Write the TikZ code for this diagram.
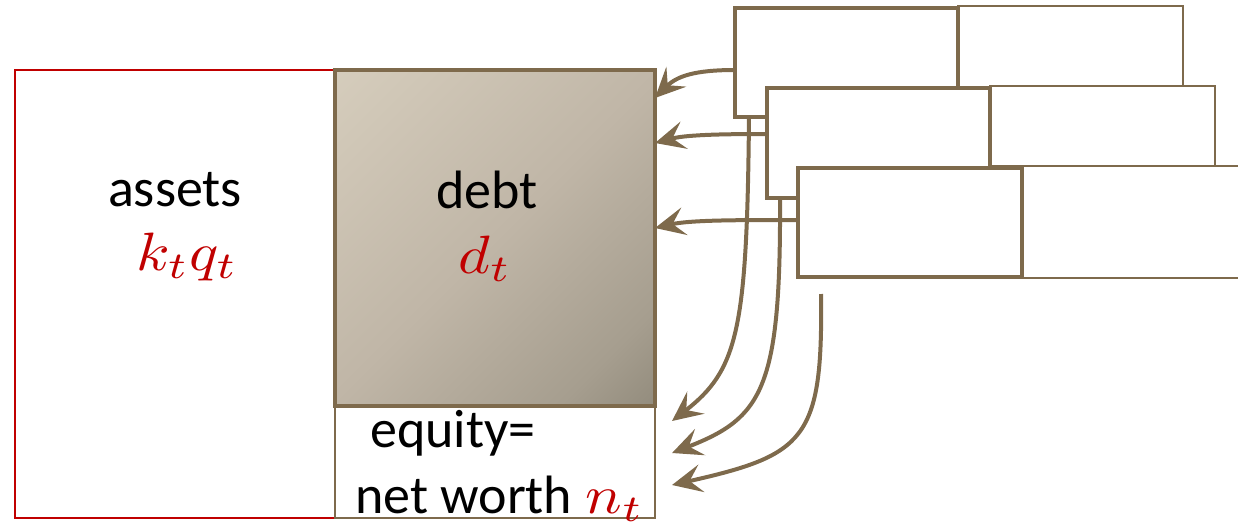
\documentclass[tikz,border=0pt]{standalone}
\usepackage{graphicx}
\usepackage{fontspec}
\setmainfont{Carlito}
\usetikzlibrary{arrows.meta,calc}
\definecolor{tan}{RGB}{126,106,76}
\definecolor{dred}{RGB}{192,0,0}
\definecolor{sh0}{RGB}{120,115,100}
\definecolor{sh1}{RGB}{166,158,143}
\definecolor{sh2}{RGB}{192,182,167}
\definecolor{sh3}{RGB}{207,198,182}
\definecolor{sh4}{RGB}{222,214,197}
\pgfdeclareverticalshading{debtshade}{100bp}{color(0bp)=(sh0); color(25bp)=(sh1); color(50bp)=(sh2); color(75bp)=(sh3); color(100bp)=(sh4)}
\newcommand{\redmath}[1]{{\fontsize{10}{12}\selectfont\scalebox{6.1}[5.4]{$#1$}}}
\begin{document}
\begin{tikzpicture}[x=1pt,y=-1pt,
  thickbox/.style={draw=tan,line width=3.4pt,fill=white,inner sep=0pt,outer sep=0pt},
  thinbox/.style={draw=tan,line width=2pt,fill=white,inner sep=0pt,outer sep=0pt},
  conn/.style={draw=tan,line width=4pt,-{Stealth[length=30pt,width=28pt,inset=12pt]}},
  lbl/.style={inner sep=0pt,anchor=base,font=\fontsize{54}{60}\selectfont},
  mlbl/.style={inner sep=0pt,anchor=base,text=dred}]
\useasboundingbox (0,0) rectangle (1238,523);
\clip (0,0) rectangle (1238,523);
% balance sheet
\node[draw=dred,line width=1.8pt,inner sep=0pt,minimum width=320pt,minimum height=448pt] (assets) at (175,294) {};
\node[thinbox,line width=1.8pt,minimum width=320pt,minimum height=112pt] (eq) at (495,462) {};
\node[draw=tan,line width=3.8pt,inner sep=0pt,outer sep=0pt,minimum width=320pt,minimum height=336pt,
  shading=debtshade,shading angle=45] (debt) at (495,238) {};
\node[lbl] (tA) at (175,206) {assets};
\node[mlbl] (mA) at (187,270) {\redmath{k_t q_t}};
\node[lbl] (tD) at (487,208) {debt};
\node[mlbl] (mD) at (485,273) {\redmath{d_t}};
\node[lbl,anchor=base west] (tE) at (370,447) {equity=};
\node[lbl,anchor=base west] (tN) at (355,513) {net worth\hspace{0.25em}\textcolor{dred}{\redmath{n_t}}};
% stacked boxes
\node[thinbox,minimum width=225pt,minimum height=81pt] (b1r) at (1070.5,46.5) {};
\node[thickbox,minimum width=223pt,minimum height=109pt] (b1) at (846.5,62.5) {};
\node[thinbox,minimum width=225pt,minimum height=80pt] (b2r) at (1102.5,126) {};
\node[thickbox,minimum width=223pt,minimum height=110pt] (b2) at (878.5,143) {};
\node[thinbox,minimum width=228pt,minimum height=112pt] (b3r) at (1136,222) {};
\node[thickbox,minimum width=224pt,minimum height=109pt] (b3) at (910,222.5) {};
% connector ends
\coordinate (c3s) at (821,294);
\coordinate (e1) at ([xshift=17pt,yshift=41pt]eq.east);
\coordinate (e2) at ([xshift=17pt,yshift=9pt]eq.east);
\coordinate (e3) at ([xshift=17pt,yshift=-23pt]eq.east);
% long curves
\draw[conn] ([xshift=14pt]b1.south west) .. controls +(-2,213) and +(66,-51) .. (e1);
\draw[conn] ([xshift=13pt]b2.south west) .. controls +(1,192) and +(90,-35) .. (e2);
\draw[conn] (c3s) .. controls +(2,146) and +(133,-30) .. (e3);
% short arrows to debt
\draw[conn] ([yshift=-7.5pt]b1.west) .. controls +(-40,0) and +(22,-22) .. ([yshift=-28pt]debt.north east);
\draw[conn] ([yshift=9pt]b2.west) .. controls +(-50,0) and +(30,-8) .. ([yshift=-73pt]debt.north east);
\draw[conn] ([yshift=2.5pt]b3.west) .. controls +(-60,0) and +(35,-8) .. ([yshift=-158pt]debt.north east);
\end{tikzpicture}
\end{document}
